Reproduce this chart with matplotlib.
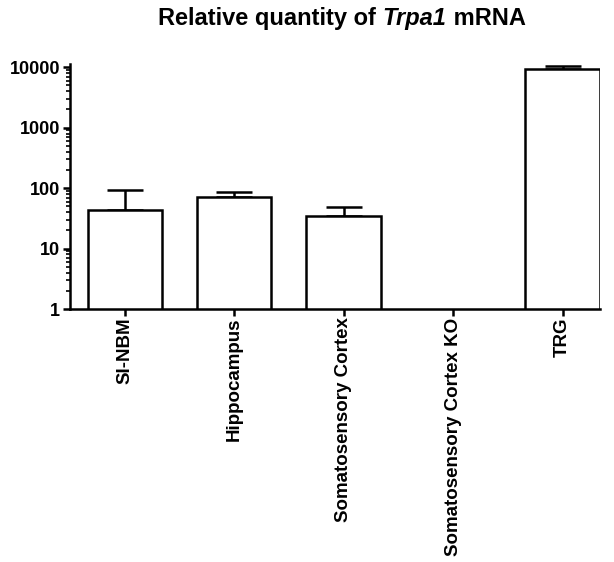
import numpy as np
import matplotlib.pyplot as plt
from matplotlib.ticker import LogLocator
from matplotlib.offsetbox import TextArea, HPacker, AnchoredOffsetbox

plt.rcParams['font.family'] = ['Liberation Sans', 'DejaVu Sans']
plt.rcParams['font.weight'] = 'bold'

regions = ["SI-NBM", "Hippocampus", "Somatosensory Cortex",
           "Somatosensory Cortex KO", "TRG"]
quantity = [43, 71, 34.5, np.nan, 9300]
sem = [50, 15, 15, np.nan, 1100]

fig = plt.figure(figsize=(6.14, 5.62), dpi=100)
ax = fig.add_axes([0.114, 0.450, 0.863, 0.437])

x = np.arange(len(regions))
ax.bar(x, quantity, width=0.68, bottom=0, color="white", edgecolor="black",
       linewidth=1.8, zorder=2)
ax.errorbar(x, quantity, yerr=[np.zeros(len(sem)), sem], fmt="none",
            ecolor="black", elinewidth=1.8, capsize=13, capthick=1.8, zorder=1)

ax.set_yscale("log")
ax.set_ylim(1, 11500)
ax.set_xlim(-0.5, 4.34)
ax.set_yticks([1, 10, 100, 1000, 10000])
ax.set_yticklabels(["1", "10", "100", "1000", "10000"])
ax.yaxis.set_minor_locator(LogLocator(base=10, subs=np.arange(2, 10)))
ax.tick_params(axis="y", which="major", length=5, width=1.8, labelsize=13, pad=2)
ax.tick_params(axis="y", which="minor", length=3, width=1.2)
ax.set_xticks(x)
ax.set_xticklabels(regions, rotation=90, fontsize=13.5)
ax.tick_params(axis="x", length=5, width=1.8, pad=1)

for s in ["top", "right"]:
    ax.spines[s].set_visible(False)
for s in ["left", "bottom"]:
    ax.spines[s].set_linewidth(1.8)

# title with the gene name in italics
tprops = dict(fontsize=17, fontweight="bold", color="black")
parts = [TextArea("Relative quantity of ", textprops=tprops),
         TextArea("Trpa1", textprops=dict(tprops, style="italic")),
         TextArea(" mRNA", textprops=tprops)]
title = HPacker(children=parts, align="baseline", pad=0, sep=0)
box = AnchoredOffsetbox(loc="lower center", child=title, frameon=False,
                        bbox_to_anchor=(0.513, 1.135), bbox_transform=ax.transAxes,
                        borderpad=0, pad=0)
ax.add_artist(box)

fig.savefig("out.png", dpi=100)
